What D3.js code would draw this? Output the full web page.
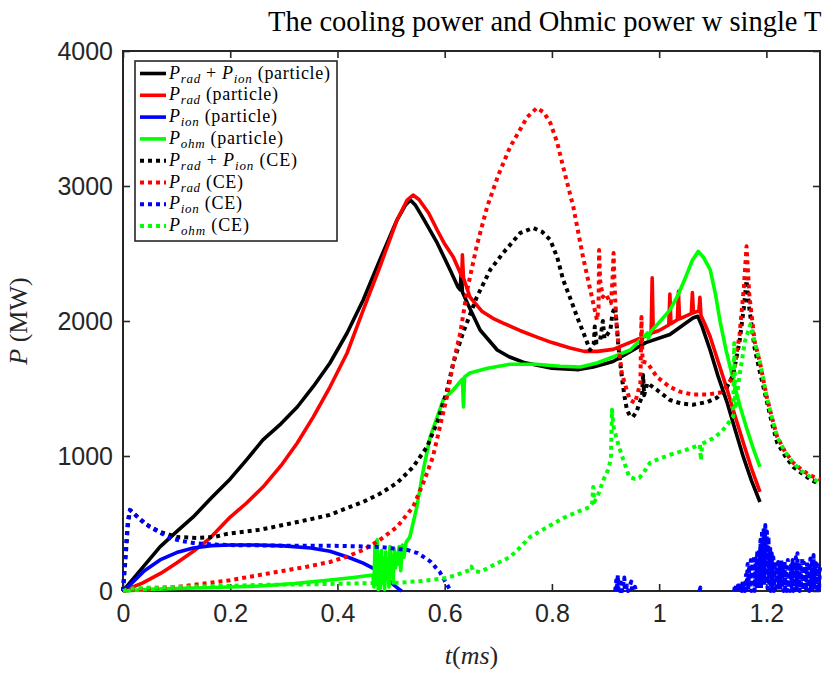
<!DOCTYPE html>
<html>
<head>
<meta charset="utf-8">
<script src="https://cdn.jsdelivr.net/npm/d3@7"></script>
<style>
  body { margin: 0; background: #fff; }
  svg { display: block; }
</style>
</head>
<body>
<svg id="chart" width="823" height="673"></svg>
<script>
// Tick values
const xTicks = [0, 0.2, 0.4, 0.6, 0.8, 1, 1.2];
const yTicks = [0, 1000, 2000, 3000, 4000];

// Particle model: [t (ms), P (MW)]
const radIonParticle = [
  [0,0],[0.02,95],[0.069,327],[0.1,440],[0.131,549],[0.165,690],[0.2,830],[0.23,970],[0.261,1119],
  [0.295,1240],[0.325,1363],[0.355,1515],[0.386,1689],[0.418,1911],[0.448,2156],[0.479,2452],
  [0.511,2748],[0.527,2860],[0.536,2896],[0.545,2860],[0.56,2760],[0.586,2578],[0.61,2380],
  [0.625,2250],[0.629,2230],[0.631,2380],[0.633,2215],[0.645,2110],[0.666,1933],[0.698,1785],
  [0.72,1735],[0.75,1690],[0.8,1650],[0.85,1640],[0.877,1660],[0.914,1700],[0.945,1770],
  [0.975,1840],[1.02,1900],[1.063,2022],[1.072,2035],[1.08,1960],[1.095,1785],[1.11,1590],
  [1.127,1393],[1.142,1190],[1.157,993],[1.172,820],[1.188,659]
];
const radParticle = [
  [0,0],[0.037,60],[0.07,130],[0.1,208],[0.13,290],[0.162,390],[0.2,548],[0.23,650],[0.261,770],
  [0.295,930],[0.325,1096],[0.355,1290],[0.386,1511],[0.418,1763],[0.448,2081],[0.479,2400],
  [0.511,2748],[0.53,2896],[0.541,2933],[0.552,2900],[0.57,2800],[0.586,2674],[0.6,2570],
  [0.616,2474],[0.632,2330],[0.633,2490],[0.635,2320],[0.647,2178],[0.67,2070],[0.69,2020],
  [0.709,1985],[0.74,1930],[0.772,1881],[0.8,1840],[0.834,1800],[0.86,1775],[0.885,1775],
  [0.914,1790],[0.945,1840],[0.975,1890],[0.985,1905],[0.987,2320],[0.989,1915],[1.0,1930],
  [1.018,1970],[1.02,2200],[1.022,1980],[1.034,2010],[1.036,2220],[1.038,2015],[1.06,2055],
  [1.062,2210],[1.064,2060],[1.07,2070],[1.074,2070],[1.076,2175],[1.078,2040],[1.085,1980],
  [1.095,1885],[1.11,1700],[1.127,1490],[1.142,1290],[1.157,1098],[1.172,910],[1.188,735]
];
const ionParticle = [
  [0,0],[0.013,45],[0.04,150],[0.069,230],[0.1,285],[0.131,319],[0.165,336],[0.2,341],[0.25,341],
  [0.3,334],[0.35,318],[0.386,295],[0.42,250],[0.448,207],[0.466,170],[0.49,100],[0.505,45],
  [0.517,7],[0.52,0]
];
const ohmParticle = [
  [0,0],[0.05,12],[0.1,18],[0.2,30],[0.255,37],[0.32,55],[0.386,82],[0.43,100],[0.466,119],
  [0.468,30],[0.47,330],[0.472,50],[0.474,380],[0.476,10],[0.478,260],[0.48,20],[0.482,300],
  [0.484,60],[0.486,240],[0.488,10],[0.49,290],[0.492,90],[0.494,200],[0.496,30],[0.498,330],
  [0.5,140],[0.502,260],[0.504,60],[0.506,310],[0.508,170],[0.51,280],[0.512,200],[0.515,330],
  [0.518,150],[0.521,340],[0.524,250],[0.528,360],[0.535,400],[0.548,622],[0.56,896],
  [0.573,1141],[0.586,1289],[0.597,1415],[0.616,1489],[0.633,1570],[0.635,1363],[0.637,1585],
  [0.647,1615],[0.68,1650],[0.722,1680],[0.77,1680],[0.815,1665],[0.853,1659],[0.884,1689],
  [0.915,1735],[0.946,1785],[0.97,1880],[0.978,1911],[0.98,1870],[0.984,1920],[1.0,1990],
  [1.02,2081],[1.034,2182],[1.05,2330],[1.062,2450],[1.073,2516],[1.083,2470],[1.095,2382],
  [1.105,2200],[1.114,1989],[1.125,1780],[1.138,1566],[1.15,1380],[1.164,1195],[1.176,1050],
  [1.188,920]
];

// Collisional-equilibrium (CE) model: [t (ms), P (MW)]; null marks a gap
const radIonCE = [
  [0,0],[0.004,200],[0.009,480],[0.013,601],[0.04,500],[0.069,438],[0.1,400],[0.137,393],[0.17,400],
  [0.194,423],[0.255,453],[0.3,490],[0.343,526],[0.386,564],[0.418,615],[0.448,660],[0.479,720],
  [0.511,800],[0.53,874],[0.541,919],[0.567,1067],[0.586,1250],[0.604,1480],[0.616,1689],
  [0.634,1911],[0.66,2178],[0.685,2380],[0.709,2504],[0.741,2652],[0.765,2689],[0.782,2660],
  [0.797,2600],[0.81,2470],[0.821,2304],[0.835,2160],[0.847,2030],[0.86,1900],[0.871,1785],
  [0.878,1830],[0.88,1960],[0.883,1840],[0.89,1859],[0.895,2000],[0.898,1870],[0.909,1933],
  [0.913,2060],[0.918,2104],[0.921,1960],[0.924,1807],[0.93,1600],[0.935,1450],[0.94,1341],
  [0.945,1300],[0.951,1289],[0.958,1330],[0.963,1390],[0.968,1437],[0.97,1600],[0.972,1450],
  [0.978,1541],[0.996,1489],[1.02,1415],[1.04,1390],[1.063,1380],[1.09,1400],[1.108,1432],
  [1.125,1500],[1.138,1600],[1.15,1850],[1.158,2100],[1.163,2300],[1.168,2100],[1.178,1800],
  [1.188,1620],[1.2,1420],[1.21,1250],[1.22,1100],[1.235,1000],[1.25,920],[1.27,860],
  [1.285,820],[1.3,790]
];
const radCE = [
  [0,0],[0.007,7],[0.05,18],[0.1,30],[0.162,60],[0.2,80],[0.255,119],[0.3,150],[0.343,180],
  [0.386,215],[0.418,255],[0.448,304],[0.479,378],[0.511,474],[0.541,622],[0.56,800],[0.578,993],
  [0.591,1215],[0.604,1437],[0.616,1689],[0.629,1911],[0.642,2230],[0.66,2560],[0.679,2844],
  [0.7,3080],[0.722,3289],[0.754,3511],[0.772,3578],[0.785,3545],[0.797,3467],[0.81,3320],
  [0.821,3141],[0.84,2844],[0.858,2474],[0.877,2133],[0.884,2007],[0.887,2100],[0.888,2526],
  [0.89,2300],[0.895,2178],[0.9,2200],[0.91,2133],[0.913,2300],[0.915,2504],[0.917,2250],
  [0.92,2000],[0.925,1800],[0.93,1620],[0.94,1480],[0.946,1415],[0.955,1393],[0.965,1541],
  [0.967,2030],[0.969,1700],[0.978,1689],[0.996,1585],[1.02,1511],[1.04,1475],[1.063,1455],
  [1.09,1455],[1.114,1470],[1.128,1530],[1.138,1588],[1.15,1900],[1.158,2250],[1.163,2553],
  [1.168,2200],[1.178,1850],[1.188,1692],[1.2,1450],[1.21,1290],[1.22,1143],[1.235,1030],
  [1.25,950],[1.265,900],[1.28,860],[1.3,824]
];
const ionCE = [
  [0,0],[0.004,250],[0.009,520],[0.013,601],[0.03,540],[0.05,475],[0.07,430],[0.088,393],
  [0.11,370],[0.131,356],[0.165,345],[0.2,340],[0.25,338],[0.3,336],[0.386,335],[0.43,332],
  [0.479,326],[0.53,304],[0.55,280],[0.573,220],[0.582,180],[0.591,140],[0.598,90],[0.604,50],
  [0.61,7],[0.612,0],[0.7,null],
  [0.918,0],[0.92,80],[0.921,5],[0.923,120],[0.924,10],[0.926,90],[0.927,0],[0.93,60],[0.931,0],
  [0.935,100],[0.936,0],[0.94,40],[0.942,0],[0.948,70],[0.95,0],[0.955,30],[0.957,0],[1.0,null],
  [1.075,0],[1.077,25],[1.079,0],[1.1,null],
  [1.14,0],[1.141,30],[1.142,5],[1.144,50],[1.145,0],[1.147,40],[1.148,0],[1.15,60],[1.151,5],
  [1.153,45],[1.154,0],[1.156,70],[1.157,10],[1.159,55],[1.16,0],[1.162,120],[1.163,10],
  [1.165,200],[1.166,0],[1.168,190],[1.169,20],[1.171,230],[1.172,0],[1.174,210],[1.175,30],
  [1.177,260],[1.178,0],[1.18,240],[1.181,40],[1.183,300],[1.184,10],[1.186,310],[1.187,60],
  [1.189,380],[1.19,20],[1.192,450],[1.193,80],[1.195,470],[1.196,40],[1.198,489],[1.199,90],
  [1.201,440],[1.202,20],[1.204,400],[1.205,60],[1.207,330],[1.208,0],[1.21,280],[1.211,30],
  [1.213,250],[1.214,0],[1.216,215],[1.217,20],[1.219,200],[1.22,0],[1.222,215],[1.223,20],
  [1.225,190],[1.226,0],[1.228,230],[1.229,30],[1.231,200],[1.232,0],[1.234,220],[1.235,10],
  [1.237,180],[1.238,0],[1.24,230],[1.241,20],[1.243,200],[1.244,0],[1.246,190],[1.247,30],
  [1.249,230],[1.25,0],[1.252,210],[1.253,10],[1.255,250],[1.256,0],[1.258,280],[1.259,30],
  [1.261,220],[1.262,0],[1.264,200],[1.265,20],[1.267,244],[1.268,0],[1.27,210],[1.271,10],
  [1.273,190],[1.274,0],[1.276,220],[1.277,30],[1.279,200],[1.28,0],[1.282,240],[1.283,10],
  [1.285,210],[1.286,0],[1.288,267],[1.289,20],[1.291,220],[1.292,0],[1.294,200],[1.295,10],
  [1.297,190],[1.298,0],[1.3,178]
];
const ohmCE = [
  [0,0],[0.01,15],[0.05,25],[0.1,30],[0.2,38],[0.255,45],[0.32,48],[0.386,52],[0.45,58],
  [0.517,62],[0.56,75],[0.604,96],[0.63,130],[0.647,156],[0.65,180],[0.653,150],[0.666,140],
  [0.69,190],[0.722,252],[0.74,320],[0.759,400],[0.79,470],[0.821,540],[0.85,590],[0.871,622],
  [0.875,650],[0.877,770],[0.879,660],[0.885,700],[0.896,822],[0.905,900],[0.91,980],
  [0.912,1343],[0.914,1250],[0.916,1195],[0.925,1069],[0.935,950],[0.944,846],[0.955,830],
  [0.963,838],[0.975,900],[0.983,950],[1.0,980],[1.02,1009],[1.05,1045],[1.076,1083],
  [1.078,970],[1.08,1090],[1.1,1130],[1.114,1172],[1.125,1220],[1.135,1280],[1.138,1291],
  [1.14,1837],[1.142,1350],[1.15,1600],[1.16,1850],[1.17,1974],[1.178,1850],[1.188,1692],
  [1.2,1450],[1.21,1290],[1.22,1143],[1.235,1030],[1.25,950],[1.265,890],[1.28,850],[1.3,800]
];

const seriesNames = [
  "radIonParticle","radParticle","ionParticle","ohmParticle",
  "radIonCE","radCE","ionCE","ohmCE"
];

// Layout
const svg = d3.select("#chart");
const plot = { left: 123, right: 820, top: 51, bottom: 591 };
const x = d3.scaleLinear().domain([0, 1.3]).range([plot.left, plot.right]);
const y = d3.scaleLinear().domain([0, 4000]).range([plot.bottom, plot.top]);
const axisColor = "#262626";
const tickFont = "'Liberation Sans', Arial, Helvetica, sans-serif";
const serif = "'Liberation Serif', 'Times New Roman', serif";

function styleAxis(g, showText) {
  g.select(".domain").remove();
  g.selectAll(".tick line").attr("stroke", axisColor).attr("stroke-width", 1.6);
  g.selectAll(".tick text")
    .attr("fill", axisColor)
    .style("font-family", tickFont)
    .style("font-size", "25px");
  if (!showText) g.selectAll(".tick text").remove();
}

// Axes with inward ticks on all four sides
svg.append("g").attr("transform", `translate(0,${plot.bottom})`)
  .call(d3.axisBottom(x).tickValues(xTicks).tickFormat(d3.format("~g")).tickSizeInner(-7).tickSizeOuter(0).tickPadding(13))
  .call(g => styleAxis(g, true));
svg.append("g").attr("transform", `translate(0,${plot.top})`)
  .call(d3.axisTop(x).tickValues(xTicks).tickSizeInner(-7).tickSizeOuter(0))
  .call(g => styleAxis(g, false));
svg.append("g").attr("transform", `translate(${plot.left},0)`)
  .call(d3.axisLeft(y).tickValues(yTicks).tickFormat(d3.format("d")).tickSizeInner(-7).tickSizeOuter(0).tickPadding(10))
  .call(g => styleAxis(g, true));
svg.append("g").attr("transform", `translate(${plot.right},0)`)
  .call(d3.axisRight(y).tickValues(yTicks).tickSizeInner(-7).tickSizeOuter(0))
  .call(g => styleAxis(g, false));

svg.append("rect")
  .attr("x", plot.left).attr("y", plot.top)
  .attr("width", plot.right - plot.left).attr("height", plot.bottom - plot.top)
  .attr("fill", "none").attr("stroke", axisColor).attr("stroke-width", 2);

// Curves
const line = d3.line()
  .defined(d => d[1] !== null)
  .x(d => x(d[0]))
  .y(d => y(d[1]));

const styles = {
  radIonParticle: { data: radIonParticle, color: "#000000", dotted: false },
  radParticle:    { data: radParticle,    color: "#ff0000", dotted: false },
  ionParticle:    { data: ionParticle,    color: "#0000ff", dotted: false },
  ohmParticle:    { data: ohmParticle,    color: "#00ff00", dotted: false },
  radIonCE:       { data: radIonCE,       color: "#000000", dotted: true },
  radCE:          { data: radCE,          color: "#ff0000", dotted: true },
  ionCE:          { data: ionCE,          color: "#0000ff", dotted: true },
  ohmCE:          { data: ohmCE,          color: "#00ff00", dotted: true }
};

const curves = svg.append("g");
seriesNames.forEach(name => {
  const s = styles[name];
  curves.append("path")
    .datum(s.data)
    .attr("d", line)
    .attr("fill", "none")
    .attr("stroke", s.color)
    .attr("stroke-width", s.dotted ? 4 : 3.6)
    .attr("stroke-linejoin", "round")
    .attr("stroke-linecap", "butt")
    .attr("stroke-dasharray", s.dotted ? "4,4" : null);
});

// Title and axis labels
svg.append("text")
  .attr("x", 268).attr("y", 31)
  .style("font-family", serif).style("font-size", "28.5px")
  .attr("fill", "#000")
  .text("The cooling power and Ohmic power w single T");

const xl = svg.append("text")
  .attr("x", x(0.65)).attr("y", 664)
  .attr("text-anchor", "middle")
  .style("font-family", serif).style("font-size", "26px")
  .attr("fill", axisColor);
xl.append("tspan").style("font-style", "italic").text("t");
xl.append("tspan").text("(");
xl.append("tspan").style("font-style", "italic").text("ms");
xl.append("tspan").text(")");

const yl = svg.append("text")
  .attr("transform", "translate(27,321) rotate(-90)")
  .attr("text-anchor", "middle")
  .style("font-family", serif).style("font-size", "26px")
  .attr("fill", axisColor);
yl.append("tspan").style("font-style", "italic").text("P");
yl.append("tspan").text(" (MW)");

// Legend
const legendItems = [
  { key: "radIonParticle", terms: ["rad", "ion"], tag: "(particle)", width: 161 },
  { key: "radParticle",    terms: ["rad"],        tag: "(particle)", width: 109 },
  { key: "ionParticle",    terms: ["ion"],        tag: "(particle)", width: 108 },
  { key: "ohmParticle",    terms: ["ohm"],        tag: "(particle)", width: 114 },
  { key: "radIonCE",       terms: ["rad", "ion"], tag: "(CE)",       width: 128 },
  { key: "radCE",          terms: ["rad"],        tag: "(CE)",       width: 74 },
  { key: "ionCE",          terms: ["ion"],        tag: "(CE)",       width: 73 },
  { key: "ohmCE",          terms: ["ohm"],        tag: "(CE)",       width: 80 }
];
const lg = svg.append("g");
lg.append("rect")
  .attr("x", 135).attr("y", 61).attr("width", 202).attr("height", 180)
  .attr("fill", "#fff").attr("stroke", axisColor).attr("stroke-width", 1.6);

legendItems.forEach((item, i) => {
  const cy = 73.5 + i * 21.8;
  const s = styles[item.key];
  lg.append("line")
    .attr("x1", 140).attr("x2", 166).attr("y1", cy).attr("y2", cy)
    .attr("stroke", s.color)
    .attr("stroke-width", s.dotted ? 4 : 3.6)
    .attr("stroke-dasharray", s.dotted ? "4,4" : null);
  const t = lg.append("text")
    .attr("x", 169).attr("y", cy + 5)
    .attr("textLength", item.width)
    .attr("lengthAdjust", "spacing")
    .style("font-family", serif).style("font-size", "18px")
    .attr("fill", "#000");
  item.terms.forEach((term, j) => {
    if (j > 0) t.append("tspan").attr("dy", -4).text(" + ");
    t.append("tspan").attr("dy", j > 0 ? 0 : null).style("font-style", "italic").text("P");
    t.append("tspan").attr("dy", 4).style("font-style", "italic").style("font-size", "13px").text(term);
  });
  t.append("tspan").attr("dy", -4).text(" " + item.tag);
});
</script>
</body>
</html>
